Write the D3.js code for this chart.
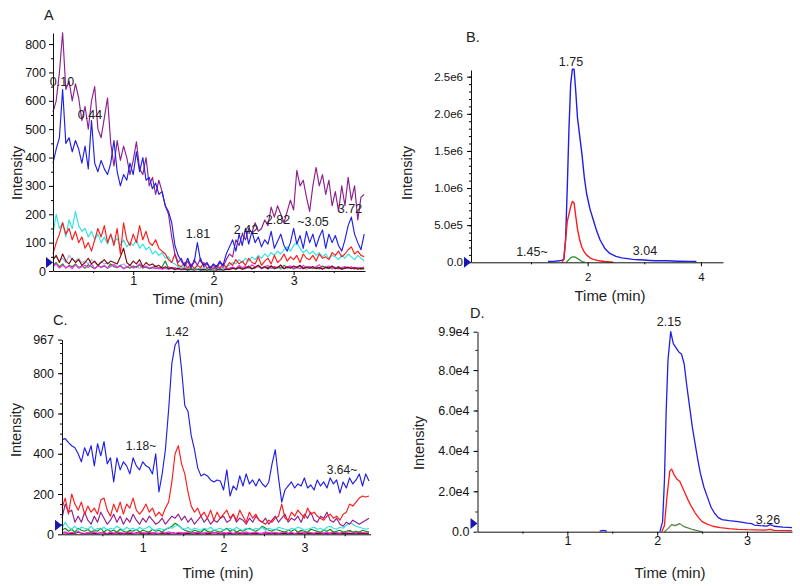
<!DOCTYPE html>
<html><head><meta charset="utf-8">
<script src="https://cdn.jsdelivr.net/npm/d3@7"></script>
<style>body{margin:0;background:#fff}svg{display:block;font-family:"Liberation Sans",Arial,sans-serif}</style>
</head><body><svg id="c" width="800" height="586"></svg>
<script>
// ---------- DATA ----------
// Panel A (uniform time step, minutes)
const A_TIME_STEP = 0.04;
const A_purple = [560,600,700,840,640,670,600,660,610,530,
580,500,600,650,500,470,540,610,450,370,
460,390,440,400,340,390,455,360,340,400,
300,330,270,320,280,230,200,120,60,30,
45,15,35,10,40,20,45,15,25,10,
20,8,30,15,40,60,50,110,90,130,
110,150,135,170,140,150,180,160,225,190,
230,200,170,210,250,215,355,300,320,260,
210,300,365,300,340,270,320,230,280,210,
300,230,330,250,300,180,260,270];
const A_blue = [380,430,470,640,450,470,420,460,430,380,
440,360,530,380,350,390,360,340,380,460,
350,300,340,320,380,340,420,350,400,320,
330,290,310,270,280,230,210,170,90,55,
35,20,45,15,30,100,35,20,30,10,
25,15,35,20,60,85,110,70,130,90,
150,95,140,100,120,85,110,95,140,80,
105,130,90,70,100,150,95,125,80,140,
100,130,85,120,145,80,130,100,125,90,
70,110,160,190,130,100,75,130];
const A_cyan = [130,200,150,170,120,180,150,210,160,140,
150,120,140,110,130,100,120,95,130,100,
115,90,110,85,100,90,110,80,95,75,
85,60,70,55,65,45,50,30,25,15,
10,15,8,12,6,10,8,12,6,10,
5,8,12,6,15,20,30,25,40,30,
45,35,50,40,55,45,60,50,65,55,
70,60,75,85,70,90,100,80,65,75,
60,70,55,65,50,60,45,55,50,40,
55,45,60,50,40,55,45,35];
const A_red = [60,100,130,170,130,150,110,140,100,120,
80,100,70,110,150,120,160,100,130,90,
150,60,170,110,90,130,100,160,110,140,
100,90,110,80,70,60,40,30,60,20,
15,30,10,25,8,20,12,30,10,15,
8,20,10,25,12,30,20,40,25,35,
20,45,30,25,50,20,35,45,25,55,
30,40,60,35,50,40,55,30,60,45,
40,55,35,60,45,50,40,65,55,70,
50,60,75,85,60,70,55,50];
const A_maroon = [40,55,30,60,35,25,45,30,40,20,
30,45,25,35,20,30,40,25,35,30,
25,50,80,30,20,35,25,40,15,30,
20,25,15,20,10,15,8,12,5,10,
6,8,4,10,5,8,4,6,3,8,
5,4,8,3,6,5,10,8,12,6,
10,15,8,12,20,10,15,8,18,10,
12,20,8,15,10,18,12,20,8,14,
10,16,8,12,6,14,10,18,8,12,
6,10,14,8,12,6,10,8];
const A_magenta = [15,25,10,20,12,18,8,22,10,15,
20,12,25,8,18,14,20,10,16,22,
12,18,8,14,20,10,15,25,12,18,
10,14,8,12,6,10,15,8,12,5,
8,10,6,12,4,8,10,5,9,6,
10,4,8,12,6,10,14,8,20,12,
16,10,22,14,18,8,15,20,10,16,
12,22,8,14,18,10,15,8,20,12,
16,10,14,22,8,12,18,10,14,8,
12,16,10,14,8,12,10,15];
const A_green = [20,30,15,25,10,20,15,25,12,18,
10,22,15,8,20,12,18,10,25,15,
12,20,8,15,10,18,12,22,10,15,
8,12,18,10,15,35,8,12,6,10,
5,8,4,6,3,8,5,4,6,3,
5,8,4,6,10,8,12,6,15,10,
12,18,8,14,20,10,16,12,18,8,
14,10,20,12,16,8,14,18,10,12,
16,8,14,10,18,12,8,14,10,16,
8,12,10,14,8,12,6,10];
const A_grey = [40,50,35,45,30,55,40,35,45,30,
35,25,40,30,20,35,25,30,20,25,
15,20,25,15,20,12,18,10,15,12,
10,8,12,6,10,8,5,8,4,6,
3,5,2,4,3,5,2,4,3,5,
2,4,3,5,4,6,8,5,10,6,
8,12,6,10,15,8,12,6,10,8,
12,6,10,8,14,6,10,8,12,6,
10,8,12,6,10,8,12,6,10,8,
6,10,8,12,6,10,8,6];
const A_yTicks = [0,100,200,300,400,500,600,700,800];
const A_yTickLabels = ["0","100","200","300","400","500","600","700","800"];
const A_xTicks = [1,2,3];
const A_xTickLabels = ["1","2","3"];
const A_peakLabels = ["0.10","0.44","1.81","2.42","2.82","~3.05","3.72"];

// Panel B (explicit times, minutes; intensity)
const B_blueTime = [1.30,1.40,1.50,1.55,1.58,1.61,1.64,1.67,1.70,1.73,1.76,1.79,1.82,1.86,1.90,1.94,1.98,2.04,2.10,2.16,2.22,2.30,2.39,2.50,2.60,2.70,2.80,2.90,3.00,3.10,3.20,3.40,3.60,3.80,3.92];
const B_blue = [1e4,1.2e4,2e4,3e4,4e4,3e5,1.0e6,1.8e6,2.4e6,2.6e6,2.6e6,2.3e6,1.95e6,1.7e6,1.45e6,1.15e6,0.93e6,0.72e6,0.57e6,0.42e6,0.3e6,0.19e6,0.12e6,0.08e6,0.06e6,0.05e6,0.04e6,0.035e6,0.03e6,0.025e6,0.02e6,0.02e6,0.015e6,0.012e6,0.01e6];
const B_redTime = [1.55,1.58,1.61,1.64,1.67,1.70,1.73,1.76,1.79,1.82,1.86,1.90,1.94,1.98,2.04,2.10,2.20,2.30,2.45];
const B_red = [0,0.05e6,0.3e6,0.55e6,0.65e6,0.75e6,0.82e6,0.8e6,0.62e6,0.45e6,0.3e6,0.2e6,0.14e6,0.1e6,0.06e6,0.04e6,0.02e6,0.01e6,0];
const B_greenTime = [1.62,1.66,1.70,1.74,1.78,1.82,1.86,1.90,1.95];
const B_green = [0,0.03e6,0.06e6,0.075e6,0.07e6,0.05e6,0.03e6,0.01e6,0];
const B_yTicks = [0,5e5,1e6,1.5e6,2e6,2.5e6];
const B_yTickLabels = ["0.0","5.0e5","1.0e6","1.5e6","2.0e6","2.5e6"];
const B_xTicks = [2,4];
const B_xTickLabels = ["2","4"];
const B_peakLabels = ["1.75","1.45~","3.04"];

// Panel C (uniform time step)
const C_TIME_STEP = 0.04;
const C_blue = [470,475,455,440,430,400,360,430,390,440,
340,450,390,460,350,380,260,380,320,360,
340,300,380,340,320,360,340,330,300,400,
210,300,420,620,850,940,965,820,640,610,
490,420,330,290,300,290,270,260,270,265,
220,320,190,240,220,290,240,300,250,270,
240,275,250,235,260,350,420,280,160,220,
240,260,230,250,240,280,230,245,220,270,
240,260,230,280,250,270,205,260,230,280,
250,270,300,240,300,265];
const C_red = [130,180,100,200,150,120,160,100,140,110,
130,100,170,180,120,90,150,110,160,100,
150,130,180,120,100,120,150,110,130,90,
110,90,130,160,260,400,440,350,300,210,
140,110,130,90,110,80,120,70,110,80,
100,120,80,100,70,120,90,60,110,80,
100,70,60,50,70,60,80,90,150,80,
70,110,90,120,100,80,130,100,110,90,
80,70,90,100,80,90,70,100,110,150,
140,160,180,190,185,190];
const C_purple = [80,150,110,120,60,90,60,110,70,50,
90,60,110,80,50,70,100,60,90,50,
80,60,100,70,50,80,60,90,70,50,
60,80,50,70,90,80,100,70,90,60,
80,50,70,90,60,80,50,70,60,80,
90,60,70,100,60,80,70,50,80,60,
90,70,60,80,50,70,90,60,80,100,
60,80,70,90,60,100,80,110,70,60,
90,80,110,70,60,80,50,40,60,50,
70,60,50,60,70,80];
const C_cyan = [30,60,35,25,40,20,35,30,25,40,
20,30,25,35,20,30,25,40,30,20,
35,25,30,20,35,25,30,40,25,20,
30,25,20,35,30,40,45,30,25,35,
20,30,25,20,30,25,35,20,25,30,
20,25,30,20,35,25,20,30,25,20,
30,25,35,20,30,25,20,35,30,25,
20,30,25,35,30,20,25,30,35,25,
30,20,35,40,30,25,35,30,45,55,
50,40,35,30,25,30];
const C_green = [20,30,15,25,10,30,20,15,25,10,
20,15,30,10,25,15,20,10,25,15,
10,20,15,25,10,20,15,10,25,15,
20,10,25,30,40,55,45,30,20,15,
10,20,15,10,25,15,10,20,15,10,
20,30,15,25,10,20,15,25,30,20,
15,25,40,30,20,15,25,20,15,10,
20,15,25,10,20,15,10,25,20,15,
10,20,15,25,10,15,20,10,15,20,
10,15,10,20,15,10];
const C_magenta = [8,12,5,10,6,14,8,4,10,6,
12,5,8,10,4,12,6,8,10,5,
8,12,6,4,10,8,5,12,6,8,
4,10,6,12,8,5,10,6,8,12,
5,8,10,6,4,12,8,6,10,5,
8,6,12,4,10,8,6,12,5,8,
10,6,4,12,8,6,10,5,8,12,
6,10,4,8,12,6,10,8,5,12,
8,6,10,4,12,8,6,10,8,14,
10,6,12,8,10,12];
const C_maroon = [5,8,3,6,4,10,5,3,7,4,
6,3,8,5,2,6,4,7,3,5,
4,6,3,8,5,3,6,4,7,3,
5,4,6,3,8,5,4,6,3,5,
4,7,3,5,6,3,4,8,5,3,
6,4,5,3,7,4,6,3,5,4,
6,3,5,7,4,6,3,5,4,6,
3,5,4,6,3,7,4,5,3,6,
4,5,3,6,4,5,3,6,4,5,
3,6,4,5,3,6];
const C_yTicks = [0,200,400,600,800,967];
const C_yTickLabels = ["0","200","400","600","800","967"];
const C_xTicks = [1,2,3];
const C_xTickLabels = ["1","2","3"];
const C_peakLabels = ["1.42","1.18~","3.64~"];

// Panel D (explicit times)
const D_blueTime = [1.36,1.40,1.44,null,2.03,2.06,2.08,2.10,2.12,2.15,2.18,2.21,2.24,2.27,2.30,2.33,2.36,2.39,2.42,2.45,2.48,2.52,2.56,2.60,2.64,2.68,2.72,2.80,2.90,3.00,3.05,3.08,3.15,3.22,3.26,3.30,3.40,3.50];
const D_blue = [300,700,300,null,0,5000,25000,60000,85000,99000,93000,91000,89000,88000,83000,72000,62000,52000,44000,36000,29000,22000,17000,12000,9000,7000,6000,5500,5000,4200,4000,3300,3000,2800,3500,2700,2300,2000];
const D_redTime = [2.05,2.08,2.11,2.14,2.16,2.19,2.22,2.25,2.28,2.31,2.34,2.38,2.42,2.46,2.50,2.56,2.62,2.70,2.80,2.90,3.00,3.20,3.26,3.30,3.50];
const D_red = [0,3000,18000,30000,31000,28000,26000,25000,22000,19000,16000,12500,9500,7000,5000,3600,2700,2000,1500,1200,1000,800,1200,700,500];
const D_greenTime = [2.08,2.12,2.16,2.20,2.25,2.30,2.40,2.50];
const D_green = [0,1500,3500,3000,4000,2500,1000,0];
const D_yTicks = [0,20000,40000,60000,80000,99000];
const D_yTickLabels = ["0.0","2.0e4","4.0e4","6.0e4","8.0e4","9.9e4"];
const D_xTicks = [1,2,3];
const D_xTickLabels = ["1","2","3"];
const D_peakLabels = ["2.15","3.26"];

// ---------- DRAWING ----------
const COL = {blue:"#1f1fe6", purple:"#8e1f8e", red:"#ff1a1a", cyan:"#2fe3e3", maroon:"#7a0a0a",
             magenta:"#ff22ff", green:"#138a13", grey:"#9fb4dd", olive:"#4f7f3f"};
const svg = d3.select("#c");

function panel(cfg) {
  const x = d3.scaleLinear().domain(cfg.xDomain).range(cfg.xRange);
  const y = d3.scaleLinear().domain(cfg.yDomain).range(cfg.yRange);
  const g = svg.append("g");
  const line = d3.line().defined(d => d.v != null && d.t != null).x(d => x(d.t)).y(d => y(d.v));
  cfg.series.forEach(s => {
    const pts = s.values.map((v, i) => ({t: s.times ? s.times[i] : i * s.step, v}));
    g.append("path").datum(pts).attr("fill", "none").attr("stroke", s.color)
      .attr("stroke-width", s.w || 1.15).attr("stroke-linejoin", "round").attr("d", line);
  });
  const gy0 = g.append("g").attr("transform", `translate(${cfg.xRange[0]},0)`)
    .call(d3.axisLeft(y).tickValues(cfg.yMinor).tickSize(2).tickFormat("").tickSizeOuter(0));
  gy0.select(".domain").remove();
  const gx0 = g.append("g").attr("transform", `translate(0,${cfg.yRange[0]})`)
    .call(d3.axisBottom(x).tickValues(cfg.xMinor).tickSize(2).tickFormat("").tickSizeOuter(0));
  gx0.select(".domain").remove();
  const gy = g.append("g").attr("transform", `translate(${cfg.xRange[0]},0)`)
    .call(d3.axisLeft(y).tickValues(cfg.yTicks).tickFormat((d, i) => cfg.yTickLabels[i])
      .tickSize(4).tickPadding(cfg.yPad).tickSizeOuter(0));
  const gx = g.append("g").attr("transform", `translate(0,${cfg.yRange[0]})`)
    .call(d3.axisBottom(x).tickValues(cfg.xTicks).tickFormat((d, i) => cfg.xTickLabels[i])
      .tickSize(4).tickPadding(cfg.xPad).tickSizeOuter(0));
  [gy, gx].forEach(a => a.attr("font-size", cfg.fs).attr("font-family", null)
    .selectAll("text").attr("fill", "#111"));
  g.selectAll(".domain").attr("stroke", "#111");
  const my = y(cfg.marker), mx = cfg.xRange[0];
  g.append("path").attr("d", `M${mx-7},${my-5.5}L${mx},${my}L${mx-7},${my+5.5}Z`).attr("fill", "#1818b0");
  g.append("text").attr("x", cfg.xTitle[0]).attr("y", cfg.xTitle[1]).attr("text-anchor", "middle")
    .attr("font-size", 15).attr("fill", "#222").text("Time (min)");
  g.append("text").attr("transform", `translate(${cfg.yTitle[0]},${cfg.yTitle[1]}) rotate(-90)`)
    .attr("text-anchor", "middle").attr("dominant-baseline", "central")
    .attr("font-size", 14.5).attr("fill", "#222").text("Intensity");
  g.append("text").attr("x", cfg.letter[0]).attr("y", cfg.letter[1]).attr("font-size", 14.5)
    .attr("fill", "#222").text(cfg.letterText);
  cfg.peakLabels.forEach((t, i) => {
    g.append("text").attr("x", cfg.peakPos[i][0]).attr("y", cfg.peakPos[i][1] + 4)
      .attr("text-anchor", "middle").attr("font-size", cfg.pfs).attr("fill", "#222").text(t);
  });
}

const step = (a, b, s) => d3.range(a, b + 1e-9, s);

panel({
  xDomain: [0, 3.89], xRange: [53, 365], yDomain: [0, 839], yRange: [271, 33],
  yTicks: A_yTicks, yTickLabels: A_yTickLabels, xTicks: A_xTicks, xTickLabels: A_xTickLabels,
  yMinor: step(50, 800, 100), xMinor: [0.5, 1.5, 2.5, 3.5], fs: 12.5, yPad: 3, xPad: 1, marker: 30,
  series: [
    {values: A_grey, step: A_TIME_STEP, color: COL.grey},
    {values: A_green, step: A_TIME_STEP, color: COL.green},
    {values: A_magenta, step: A_TIME_STEP, color: COL.magenta},
    {values: A_maroon, step: A_TIME_STEP, color: COL.maroon},
    {values: A_cyan, step: A_TIME_STEP, color: COL.cyan},
    {values: A_red, step: A_TIME_STEP, color: COL.red},
    {values: A_purple, step: A_TIME_STEP, color: COL.purple},
    {values: A_blue, step: A_TIME_STEP, color: COL.blue}
  ],
  xTitle: [188, 304], yTitle: [17, 173], letter: [44, 20], letterText: "A",
  peakLabels: A_peakLabels, pfs: 12.5,
  peakPos: [[62, 82], [90, 115], [198, 234], [246, 230], [278, 220], [313, 222], [350, 209]]
});

panel({
  xDomain: [-0.06, 4.39], xRange: [471, 723], yDomain: [0, 2.59e6], yRange: [262.3, 70],
  yTicks: B_yTicks, yTickLabels: B_yTickLabels, xTicks: B_xTicks, xTickLabels: B_xTickLabels,
  yMinor: step(1e5, 2.5e6, 1e5), xMinor: [1, 3], fs: 11.5, yPad: 4, xPad: 7, marker: 0,
  series: [
    {values: B_blue, times: B_blueTime, color: COL.blue, w: 1.4},
    {values: B_red, times: B_redTime, color: COL.red, w: 1.4},
    {values: B_green, times: B_greenTime, color: COL.green}
  ],
  xTitle: [610, 301], yTitle: [407, 173], letter: [466, 42], letterText: "B.",
  peakLabels: B_peakLabels, pfs: 12.5,
  peakPos: [[571, 62], [532, 252], [645, 251]]
});

panel({
  xDomain: [0, 3.82], xRange: [62, 370.6], yDomain: [0, 967], yRange: [534.3, 339.6],
  yTicks: C_yTicks, yTickLabels: C_yTickLabels, xTicks: C_xTicks, xTickLabels: C_xTickLabels,
  yMinor: step(50, 950, 50), xMinor: [0.5, 1.5, 2.5, 3.5], fs: 12.5, yPad: 4, xPad: 5, marker: 45,
  series: [
    {values: C_maroon, step: C_TIME_STEP, color: COL.maroon},
    {values: C_magenta, step: C_TIME_STEP, color: COL.magenta},
    {values: C_green, step: C_TIME_STEP, color: COL.green},
    {values: C_cyan, step: C_TIME_STEP, color: COL.cyan},
    {values: C_purple, step: C_TIME_STEP, color: COL.purple},
    {values: C_red, step: C_TIME_STEP, color: COL.red},
    {values: C_blue, step: C_TIME_STEP, color: COL.blue}
  ],
  xTitle: [218, 578], yTitle: [16, 430], letter: [53, 325], letterText: "C.",
  peakLabels: C_peakLabels, pfs: 12,
  peakPos: [[177, 332], [141, 446], [342, 470]]
});

panel({
  xDomain: [0, 3.5], xRange: [477.5, 792], yDomain: [0, 99000], yRange: [531.7, 331.7],
  yTicks: D_yTicks, yTickLabels: D_yTickLabels, xTicks: D_xTicks, xTickLabels: D_xTickLabels,
  yMinor: step(10000, 90000, 10000), xMinor: [0.5, 1.5, 2.5], fs: 12.5, yPad: 4, xPad: 0, marker: 4000,
  series: [
    {values: D_green, times: D_greenTime, color: COL.olive},
    {values: D_red, times: D_redTime, color: COL.red, w: 1.3},
    {values: D_blue, times: D_blueTime, color: COL.blue, w: 1.3}
  ],
  xTitle: [670, 578], yTitle: [419, 443], letter: [470, 318], letterText: "D.",
  peakLabels: D_peakLabels, pfs: 12.5,
  peakPos: [[669, 322], [768, 520]]
});
</script></body></html>
